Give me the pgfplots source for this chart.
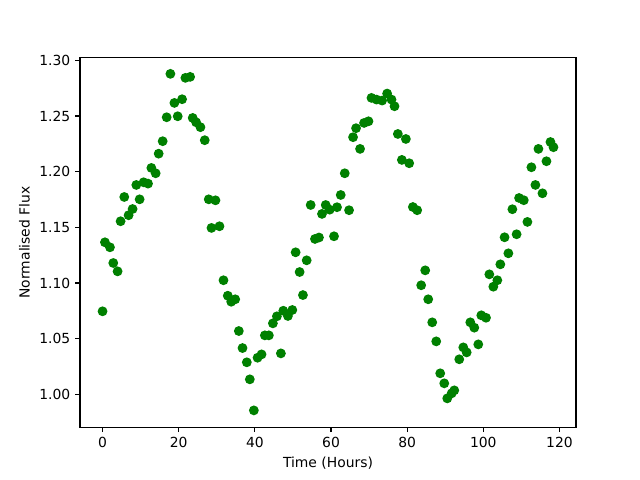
\documentclass[border=0pt]{standalone}
\usepackage{pgfplots}
\pgfplotsset{compat=1.18}
\usepackage{fontspec}
\setmainfont{DejaVu Sans}
\definecolor{mplgreen}{RGB}{0,128,0}
\begin{document}
\begin{tikzpicture}
\path[use as bounding box] (0,0) rectangle (460.8pt,345.6pt);
\begin{axis}[
  at={(57.6pt,38.016pt)}, anchor=south west,
  width=357.12pt, height=266.11pt, scale only axis,
  xmin=-5.92, xmax=124.34, ymin=0.9705, ymax=1.3025,
  xtick={0,20,40,60,80,100,120},
  ytick={1.00,1.05,1.10,1.15,1.20,1.25,1.30},
  yticklabel style={/pgf/number format/.cd, fixed, fixed zerofill, precision=2},
  /pgf/number format/assume math mode=true,
  tick label style={font=\fontsize{10}{12}\selectfont},
  label style={font=\fontsize{10}{12}\selectfont},
  xlabel={Time (Hours)}, ylabel={Normalised Flux},
  xtick pos=bottom, ytick pos=left,
  tick align=outside, major tick length=3.5pt,
  tick style={black, line width=0.8pt},
  axis line style={line width=0.8pt},
  xlabel style={yshift=0pt},
  ylabel style={yshift=0pt},
]
\addplot[only marks, mark=*, mark size=3pt, mark options={fill=mplgreen, draw=mplgreen, line width=1pt}] coordinates {
(0.0,1.0746) (0.63,1.1366) (1.95,1.1321) (2.82,1.1180) (3.95,1.1105)
(4.74,1.1555) (5.71,1.1773) (6.84,1.1609) (7.89,1.1665) (8.87,1.1881)
(9.74,1.1752) (10.79,1.1905) (11.95,1.1893) (12.82,1.2034) (13.95,1.1986)
(14.74,1.2162) (15.79,1.2274) (16.84,1.2489) (17.82,1.2879) (18.87,1.2618)
(19.74,1.2498) (20.89,1.2651) (21.76,1.2843) (23.0,1.2852) (23.68,1.2483)
(24.58,1.2444) (25.71,1.2400) (26.84,1.2283) (27.89,1.1752) (28.61,1.1495)
(29.66,1.1743) (30.71,1.1510) (31.76,1.1025) (32.89,1.0886) (33.79,1.0832)
(34.84,1.0854) (35.79,1.0569) (36.76,1.0416) (37.89,1.0288) (38.68,1.0135)
(39.74,0.9856) (40.71,1.0329) (41.76,1.0359) (42.63,1.0530) (43.68,1.0530)
(44.74,1.0638) (45.79,1.0701) (46.84,1.0368) (47.47,1.0751) (48.68,1.0704)
(49.84,1.0758) (50.71,1.1276) (51.76,1.1099) (52.63,1.0892) (53.61,1.1204)
(54.66,1.1701) (55.79,1.1396) (56.84,1.1409) (57.63,1.1621) (58.61,1.1701)
(59.66,1.1659) (60.79,1.1420) (61.58,1.1681) (62.55,1.1791) (63.61,1.1986)
(64.74,1.1654) (65.79,1.2310) (66.58,1.2391) (67.63,1.2205) (68.68,1.2438)
(69.84,1.2453) (70.63,1.2663) (71.95,1.2648) (73.42,1.2639) (74.74,1.2702)
(75.89,1.2648) (76.68,1.2588) (77.55,1.2339) (78.61,1.2106) (79.66,1.2294)
(80.53,1.2076) (81.5,1.1683) (82.63,1.1654) (83.68,1.0980) (84.74,1.1114)
(85.53,1.0854) (86.58,1.0647) (87.63,1.0476) (88.68,1.0189) (89.74,1.0099)
(90.53,0.9964) (91.68,1.0009) (92.37,1.0036) (93.68,1.0315) (94.74,1.0422)
(95.63,1.0377) (96.58,1.0647) (97.63,1.0599) (98.68,1.0449) (99.47,1.0710)
(100.71,1.0688) (101.58,1.1078) (102.63,1.0967) (103.68,1.1025) (104.47,1.1168)
(105.58,1.1411) (106.58,1.1267) (107.63,1.1663) (108.74,1.1438) (109.39,1.1764)
(110.63,1.1744) (111.58,1.1549) (112.63,1.2040) (113.68,1.1881) (114.47,1.2205)
(115.53,1.1806) (116.58,1.2094) (117.63,1.2267) (118.42,1.2220)
};
\end{axis}
\end{tikzpicture}
\end{document}
